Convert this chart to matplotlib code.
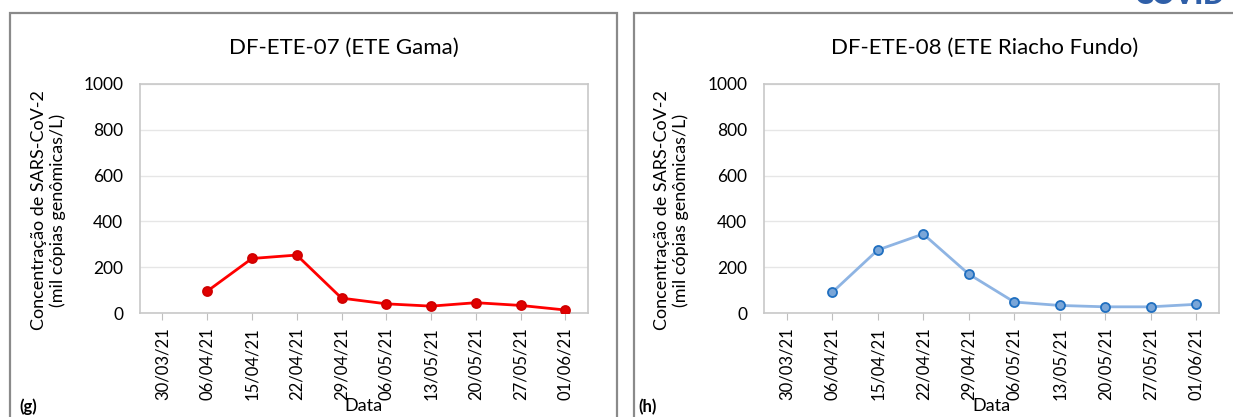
import matplotlib
matplotlib.use("Agg")
import matplotlib.pyplot as plt
from matplotlib.patches import Rectangle

plt.rcParams['font.family'] = ['Lato', 'DejaVu Sans']

# ===== dados =====
datas = ["30/03/21", "06/04/21", "15/04/21", "22/04/21", "29/04/21",
         "06/05/21", "13/05/21", "20/05/21", "27/05/21", "01/06/21"]
gama = [None, 95, 238, 253, 65, 40, 30, 45, 33, 13]
riacho = [None, 90, 275, 345, 170, 48, 33, 27, 27, 38]
yticks = [0, 200, 400, 600, 800, 1000]

ylabel = "Concentração de SARS-CoV-2\n(mil cópias genômicas/L)"

fig = plt.figure(figsize=(12.33, 4.17), dpi=100)

# molduras dos painéis
fig.patches.append(Rectangle((0.0081, -0.1), 0.4923, 1.069, transform=fig.transFigure,
                             fill=False, edgecolor='#8a8a8a', linewidth=1.6))
fig.patches.append(Rectangle((0.514, -0.1), 0.6, 1.069, transform=fig.transFigure,
                             fill=False, edgecolor='#8a8a8a', linewidth=1.6))


def painel(rect, valores, titulo, xtit, cor_linha, cor_marca, cor_borda, ms):
    ax = fig.add_axes(rect)
    x = [i for i, v in enumerate(valores) if v is not None]
    y = [v for v in valores if v is not None]
    ax.plot(x, y, color=cor_linha, linewidth=2, marker='o', markersize=ms,
            markerfacecolor=cor_marca, markeredgecolor=cor_borda, markeredgewidth=1.3,
            zorder=3)
    ax.set_xlim(-0.5, len(datas) - 0.5)
    ax.set_ylim(0, 1000)
    ax.set_yticks(yticks)
    ax.set_xticks(range(len(datas)))
    ax.set_xticklabels(datas, rotation=90, fontsize=12)
    ax.tick_params(axis='y', length=0, labelsize=12.5, pad=12)
    ax.tick_params(axis='x', length=5, color='#bfbfbf', pad=5)
    ax.grid(axis='y', color='#e6e6e6', linewidth=1)
    for s in ax.spines.values():
        s.set_color('#c8c8c8')
        s.set_linewidth(1.2)
    ax.set_axisbelow(True)
    ax.set_title(titulo, fontsize=16, pad=22, x=xtit)
    ax.set_xlabel("Data", fontsize=13)
    ax.xaxis.set_label_coords(0.5, -0.37)
    ax.set_ylabel(ylabel, fontsize=13, linespacing=1.15)
    ax.yaxis.set_label_coords(-0.165, 0.45)
    return ax


painel([0.1135, 0.2494, 0.3633, 0.5492], gama, "DF-ETE-07 (ETE Gama)", 0.455,
       '#ff0000', '#e00000', '#d00000', 6.5)
painel([0.6196, 0.2494, 0.369, 0.5492], riacho, "DF-ETE-08 (ETE Riacho Fundo)", 0.485,
       '#8eb4e3', '#7aa6d8', '#1f6fc0', 6.5)

fig.text(0.016, 0.005, "(g)", fontsize=12, fontweight='bold', ha='left', va='bottom')
fig.text(0.518, 0.005, "(h)", fontsize=12, fontweight='bold', ha='left', va='bottom')
fig.text(0.9935, 0.99, "COVID", fontsize=20, fontweight='heavy', color='#2f5fa8',
         ha='right', va='baseline')

fig.savefig("out.png", dpi=100)
